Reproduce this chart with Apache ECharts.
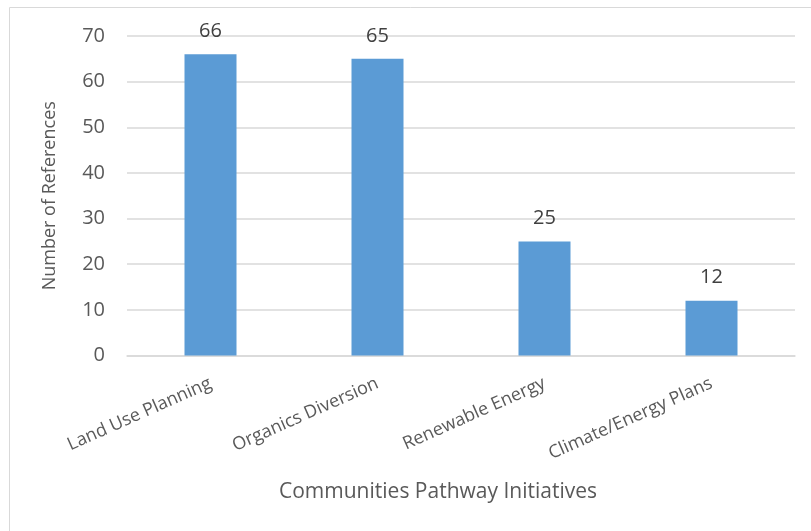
<!DOCTYPE html>
<html><head><meta charset="utf-8">
<script src="https://cdn.jsdelivr.net/npm/echarts@6/dist/echarts.min.js"></script>
<style>html,body{margin:0;padding:0;background:#fff}#c{width:811px;height:531px}</style>
</head><body><div id="c"></div>
<script>
const categories = ['Land Use Planning', 'Organics Diversion', 'Renewable Energy', 'Climate/Energy Plans'];
const values = [66, 65, 25, 12];
const yTicks = { min: 0, max: 70, interval: 10 };
const chart = echarts.init(document.getElementById('c'));
const font = '"Open Sans", "Noto Sans", sans-serif';
chart.setOption({
  animation: false,
  grid: { left: 127, right: 16, top: 36, bottom: 175.5, containLabel: false },
  graphic: [
    { type: 'line', shape: { x1: 9.5, y1: 7.5, x2: 811, y2: 7.5 }, style: { stroke: '#d9d9d9', lineWidth: 1 } },
    { type: 'line', shape: { x1: 9.5, y1: 7.5, x2: 9.5, y2: 531 }, style: { stroke: '#d9d9d9', lineWidth: 1 } },
    { type: 'text', style: { text: 'Communities Pathway Initiatives', x: 438, y: 492, align: 'center', verticalAlign: 'middle', fill: '#595959', font: '21px ' + font } }
  ],
  xAxis: {
    type: 'category', data: categories,
    axisLine: { lineStyle: { color: '#d9d9d9', width: 1.5 } },
    axisTick: { show: false },
    axisLabel: { rotate: 24, interval: 0, color: '#595959', fontSize: 18, fontFamily: font, margin: 27 }
  },
  yAxis: {
    type: 'value', min: yTicks.min, max: yTicks.max, interval: yTicks.interval,
    name: 'Number of References', nameLocation: 'middle', nameGap: 68,
    nameTextStyle: { color: '#595959', fontSize: 18, fontFamily: font },
    axisLine: { show: false }, axisTick: { show: false },
    axisLabel: { color: '#595959', fontSize: 20, fontFamily: font, margin: 22 },
    splitLine: { lineStyle: { color: '#d9d9d9', width: 1.5 } }
  },
  series: [{
    type: 'bar', data: values, barWidth: 52,
    itemStyle: { color: '#5B9BD5' },
    label: { show: true, position: 'top', distance: 13, color: '#404040', fontSize: 20, fontFamily: font }
  }]
});
</script></body></html>
